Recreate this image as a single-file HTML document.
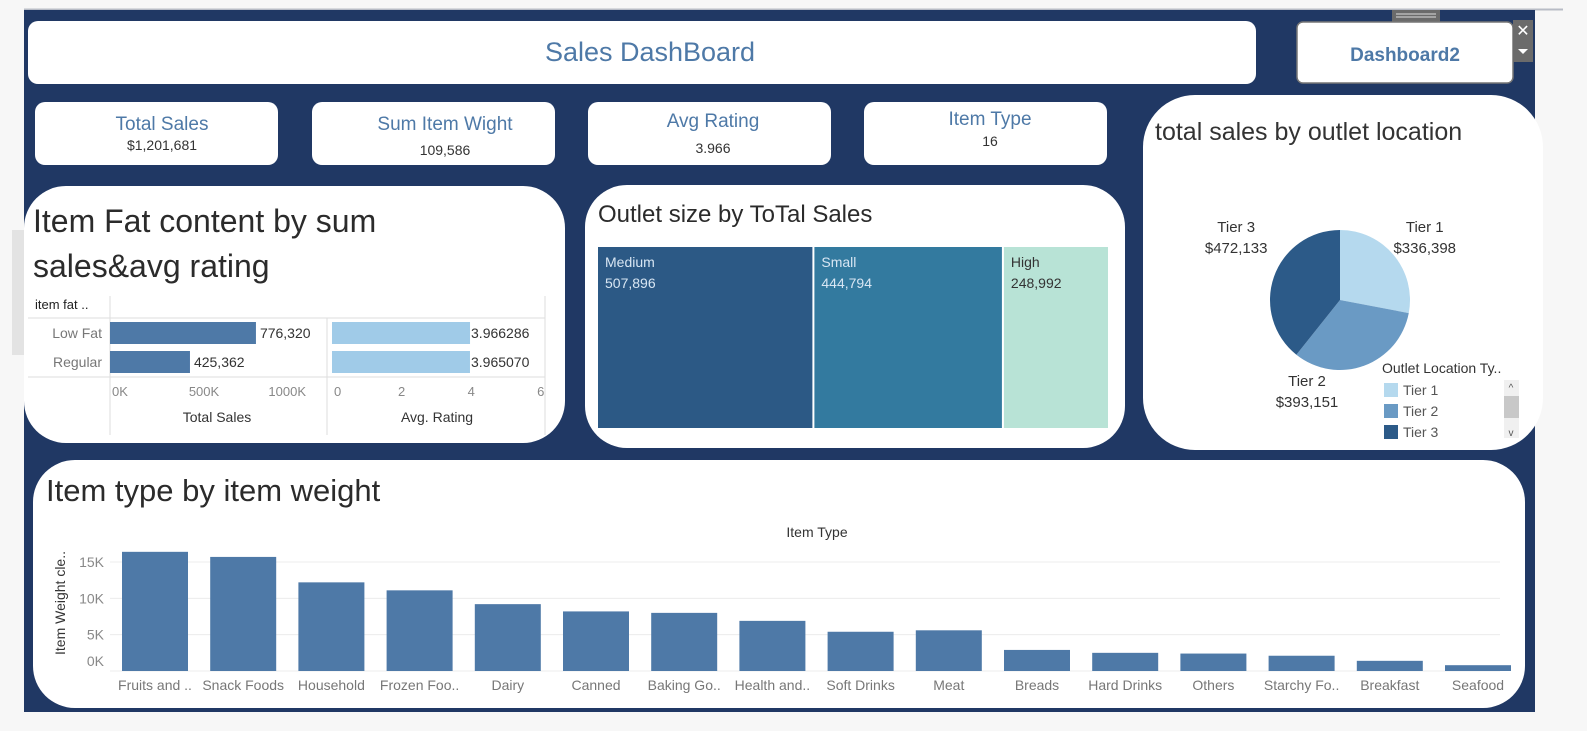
<!DOCTYPE html>
<html><head><meta charset="utf-8"><style>
html,body{margin:0;padding:0;background:#f7f7f7;width:1587px;height:731px;overflow:hidden;font-family:"Liberation Sans",sans-serif}
svg text{font-family:"Liberation Sans",sans-serif}
</style></head><body>
<svg id="dash" width="1587" height="731" viewBox="0 0 1587 731">
  <rect x="0" y="0" width="1587" height="731" fill="#f7f7f7"/>
  <line x1="24" y1="9.5" x2="1563" y2="9.5" stroke="#b8bcc6" stroke-width="2"/>
  <rect x="12" y="230" width="12" height="125" fill="#e3e3e3"/>
  <rect x="24" y="10" width="1511" height="702" fill="#203864"/>

  <rect x="28" y="21" width="1228" height="63" rx="10" fill="#fff"/>
  <text x="650" y="61" font-size="27" fill="#4e79a7" text-anchor="middle">Sales DashBoard</text>

  <rect x="1392" y="10" width="48" height="12" fill="#6b6b6b"/>
  <line x1="1396" y1="14" x2="1436" y2="14" stroke="#ddd"/>
  <line x1="1396" y1="17" x2="1436" y2="17" stroke="#ddd"/>
  <rect x="1297" y="22" width="216" height="61" rx="6" fill="#fff" stroke="#777" stroke-width="1.5"/>
  <text x="1405" y="61" font-size="19" font-weight="bold" fill="#4e79a7" text-anchor="middle">Dashboard2</text>
  <rect x="1513" y="20" width="20" height="42" fill="#6b6b6b"/>
  <text x="1523" y="36" font-size="16" fill="#fff" text-anchor="middle">✕</text>
  <path d="M1518 49 L1528 49 L1523 54 Z" fill="#fff"/>

  <g>
    <rect x="35" y="102" width="243" height="63" rx="10" fill="#fff"/>
    <text x="162" y="130" font-size="19" fill="#4e79a7" text-anchor="middle">Total Sales</text>
    <text x="162" y="150" font-size="14" fill="#333" text-anchor="middle">$1,201,681</text>
  </g>
  <g>
    <rect x="312" y="102" width="243" height="63" rx="10" fill="#fff"/>
    <text x="445" y="130" font-size="19" fill="#4e79a7" text-anchor="middle">Sum Item Wight</text>
    <text x="445" y="155" font-size="14" fill="#333" text-anchor="middle">109,586</text>
  </g>
  <g>
    <rect x="588" y="102" width="243" height="63" rx="10" fill="#fff"/>
    <text x="713" y="127" font-size="19" fill="#4e79a7" text-anchor="middle">Avg Rating</text>
    <text x="713" y="153" font-size="14" fill="#333" text-anchor="middle">3.966</text>
  </g>
  <g>
    <rect x="864" y="102" width="243" height="63" rx="10" fill="#fff"/>
    <text x="990" y="125" font-size="19" fill="#4e79a7" text-anchor="middle">Item Type</text>
    <text x="990" y="146" font-size="14" fill="#333" text-anchor="middle">16</text>
  </g>

  <rect x="24" y="186" width="541" height="257" rx="42" fill="#fff"/>
  <text x="33" y="232" font-size="32" fill="#2b2b2b">Item Fat content by sum</text>
  <text x="33" y="277" font-size="32" fill="#2b2b2b">sales&amp;avg rating</text>
  <g id="fat"></g>

  <rect x="585" y="185" width="540" height="263" rx="42" fill="#fff"/>
  <text x="598" y="222" font-size="24" fill="#2b2b2b">Outlet size by ToTal Sales</text>
  <g id="tree"></g>

  <rect x="1143" y="95" width="400" height="355" rx="52" fill="#fff"/>
  <text x="1155" y="140" font-size="25" fill="#333">total sales by outlet location</text>
  <g id="pie"></g>
  <text x="1382" y="373" font-size="14" fill="#333">Outlet Location Ty..</text>
  <g id="legend"></g>
  <rect x="1504" y="380" width="15" height="58" fill="#f0f0f0"/>
  <rect x="1504" y="396" width="15" height="22" fill="#c8c8c8"/>
  <text x="1511" y="391" font-size="10" fill="#555" text-anchor="middle">^</text>
  <text x="1511" y="436" font-size="10" fill="#555" text-anchor="middle">v</text>

  <rect x="33" y="460" width="1492" height="248" rx="42" fill="#fff"/>
  <text x="46" y="501" font-size="31" fill="#2b2b2b">Item type by item weight</text>
  <text x="817" y="537" font-size="14" fill="#333" text-anchor="middle">Item Type</text>
  <text transform="translate(65,603) rotate(-90)" font-size="14" fill="#333" text-anchor="middle">Item Weight cle..</text>
  <g id="bars"></g>
</svg>
<script>
const fatCats = ["Low Fat","Regular"];
const fatSales = [776320, 425362];
const fatRating = [3.966286, 3.965070];
const salesTicks = [0, 500000, 1000000];
const salesTickLabels = ["0K","500K","1000K"];
const ratingTicks = [0,2,4,6];
const sizeCats = ["Medium","Small","High"];
const sizeSales = [507896, 444794, 248992];
const tierCats = ["Tier 1","Tier 2","Tier 3"];
const tierSales = [336398, 393151, 472133];
const itemTypes = ["Fruits and ..","Snack Foods","Household","Frozen Foo..","Dairy","Canned","Baking Go..","Health and..","Soft Drinks","Meat","Breads","Hard Drinks","Others","Starchy Fo..","Breakfast","Seafood"];
const itemWeights = [16400,15700,12200,11100,9200,8200,8000,6900,5400,5600,2900,2500,2400,2100,1400,800];
const weightTicks = [0,5000,10000,15000];
const weightTickLabels = ["0K","5K","10K","15K"];

const NS="http://www.w3.org/2000/svg";
function mk(parent,tag,attrs,text){const e=document.createElementNS(NS,tag);for(const k in attrs)e.setAttribute(k,attrs[k]);if(text!==undefined)e.textContent=text;parent.appendChild(e);return e;}
function fmt(n){return n.toLocaleString("en-US");}

(function(){
  const g=document.getElementById("fat");
  const xS=v=>110+v*0.000188;
  const xR=v=>332+v*34.8;
  const rowY=[322,351], bh=22;
  let e;
  e=mk(g,"line",{x1:28,y1:318,x2:545,y2:318,stroke:"#ddd"});
  
  
  e=mk(g,"line",{x1:28,y1:377,x2:545,y2:377,stroke:"#ddd"});
  
  
  [[110,296,435],[327,318,435],[545,296,435]].forEach(a=>{
    e=mk(g,"line",{x1:a[0],y1:a[1],x2:a[0],y2:a[2],stroke:"#ddd"});
    
    
  });
  e=mk(g,"text",{x:35,y:309,"font-size":13,fill:"#222"},"item fat ..");
  
  
  fatCats.forEach((c,i)=>{
    const y=rowY[i];
    e=mk(g,"text",{x:102,y:y+16,"font-size":14,fill:"#777","text-anchor":"end"},c);
    
    
    e=mk(g,"rect",{x:110,y:y,width:xS(fatSales[i])-110,height:bh,fill:"#4e79a7"});
    
    
    e=mk(g,"text",{x:xS(fatSales[i])+4,y:y+16,"font-size":14,fill:"#333"},fmt(fatSales[i]));
    
    
    e=mk(g,"rect",{x:332,y:y,width:xR(fatRating[i])-332,height:bh,fill:"#a0cbe8"});
    
    
    e=mk(g,"text",{x:xR(fatRating[i])+1,y:y+16,"font-size":14,fill:"#333"},fatRating[i].toFixed(6));
    
    
  });
  salesTicks.forEach((t,i)=>{
    const x=xS(t);
    e=mk(g,"text",{x:i==0?x+2:(i==2?x+8:x),y:396,"font-size":13,fill:"#888","text-anchor":i==0?"start":(i==2?"end":"middle")},salesTickLabels[i]);
    
    
  });
  ratingTicks.forEach((t,i)=>{
    const x=xR(t);
    e=mk(g,"text",{x:i==0?x+2:x,y:396,"font-size":13,fill:"#888","text-anchor":i==0?"start":"middle"},String(t));
    
    
  });
  e=mk(g,"text",{x:217,y:422,"font-size":14,fill:"#333","text-anchor":"middle"},"Total Sales");
  
  
  e=mk(g,"text",{x:437,y:422,"font-size":14,fill:"#333","text-anchor":"middle"},"Avg. Rating");
  
  
})();

(function(){
  const g=document.getElementById("tree");
  const x0=598,x1=1110,y0=247,y1=428;
  const tot=sizeSales.reduce((a,b)=>a+b,0);
  const cols=["#2c5985","#337a9f","#b8e3d6"];
  const txt=["#d8e6f3","#d8e6f3","#333"];
  let x=x0;
  sizeCats.forEach((c,i)=>{
    const w=(x1-x0)*sizeSales[i]/tot;
    let e=mk(g,"rect",{x:x,y:y0,width:w-2,height:y1-y0,fill:cols[i]});
    
    
    e=mk(g,"text",{x:x+7,y:y0+20,"font-size":14,fill:txt[i]},c);
    
    
    e=mk(g,"text",{x:x+7,y:y0+41,"font-size":14,fill:txt[i]},fmt(sizeSales[i]));
    
    
    x+=w;
  });
})();

(function(){
  const g=document.getElementById("pie");
  const cx=1340,cy=300,r=70;
  const cols=["#b5d9ee","#6a9ac4","#2c5a88"];
  const tot=tierSales.reduce((a,b)=>a+b,0);
  let a=-Math.PI/2;
  tierCats.forEach((c,i)=>{
    const sweep=2*Math.PI*tierSales[i]/tot;
    const a2=a+sweep;
    const p1=[cx+r*Math.cos(a),cy+r*Math.sin(a)], p2=[cx+r*Math.cos(a2),cy+r*Math.sin(a2)];
    let e=mk(g,"path",{d:`M${cx},${cy} L${p1[0]},${p1[1]} A${r},${r} 0 ${sweep>Math.PI?1:0} 1 ${p2[0]},${p2[1]} Z`,fill:cols[i]});
    
    
    const m=(a+a2)/2;
    // place label outside the slice; push bottom labels downward-left to clear legend
    let lx=cx+110*Math.cos(m), ly=cy+100*Math.sin(m);
    if(Math.sin(m)>0.5){ lx=cx-33; ly=cy+86; }
    else if(Math.sin(m)<0){ ly=Math.min(ly,cy-68); }
    e=mk(g,"text",{x:lx,y:ly,"font-size":15,fill:"#333","text-anchor":"middle"},c);
    
    
    e=mk(g,"text",{x:lx,y:ly+21,"font-size":15,fill:"#333","text-anchor":"middle"},"$"+fmt(tierSales[i]));
    
    
    a=a2;
  });
  const lg=document.getElementById("legend");
  tierCats.forEach((c,i)=>{
    const y=383+i*21;
    let e=mk(lg,"rect",{x:1384,y:y,width:14,height:14,fill:cols[i]});
    
    
    e=mk(lg,"text",{x:1403,y:y+12,"font-size":14,fill:"#555"},c);
    
    
  });
})();

(function(){
  const g=document.getElementById("bars");
  const base=671, k=109/15000;
  const yS=v=>base-v*k;
  const band=88.2, x0=122, bw=66;
  let e;
  weightTicks.forEach((t,i)=>{
    if(i>0){
      e=mk(g,"line",{x1:110,y1:yS(t),x2:1500,y2:yS(t),stroke:"#ececec"});
      
      
    }
    e=mk(g,"text",{x:104,y:(i==0?yS(t)-5:yS(t)+5),"font-size":14,fill:"#888","text-anchor":"end"},weightTickLabels[i]);
    
    
  });
  e=mk(g,"line",{x1:110,y1:base,x2:1500,y2:base,stroke:"#ececec"});
  
  
  itemTypes.forEach((c,i)=>{
    const x=x0+i*band;
    e=mk(g,"rect",{x:x,y:yS(itemWeights[i]),width:bw,height:base-yS(itemWeights[i]),fill:"#4e79a7"});
    
    
    e=mk(g,"text",{x:x+bw/2,y:690,"font-size":14,fill:"#777","text-anchor":"middle"},c);
    
    
  });
})();
</script>
</body></html>
